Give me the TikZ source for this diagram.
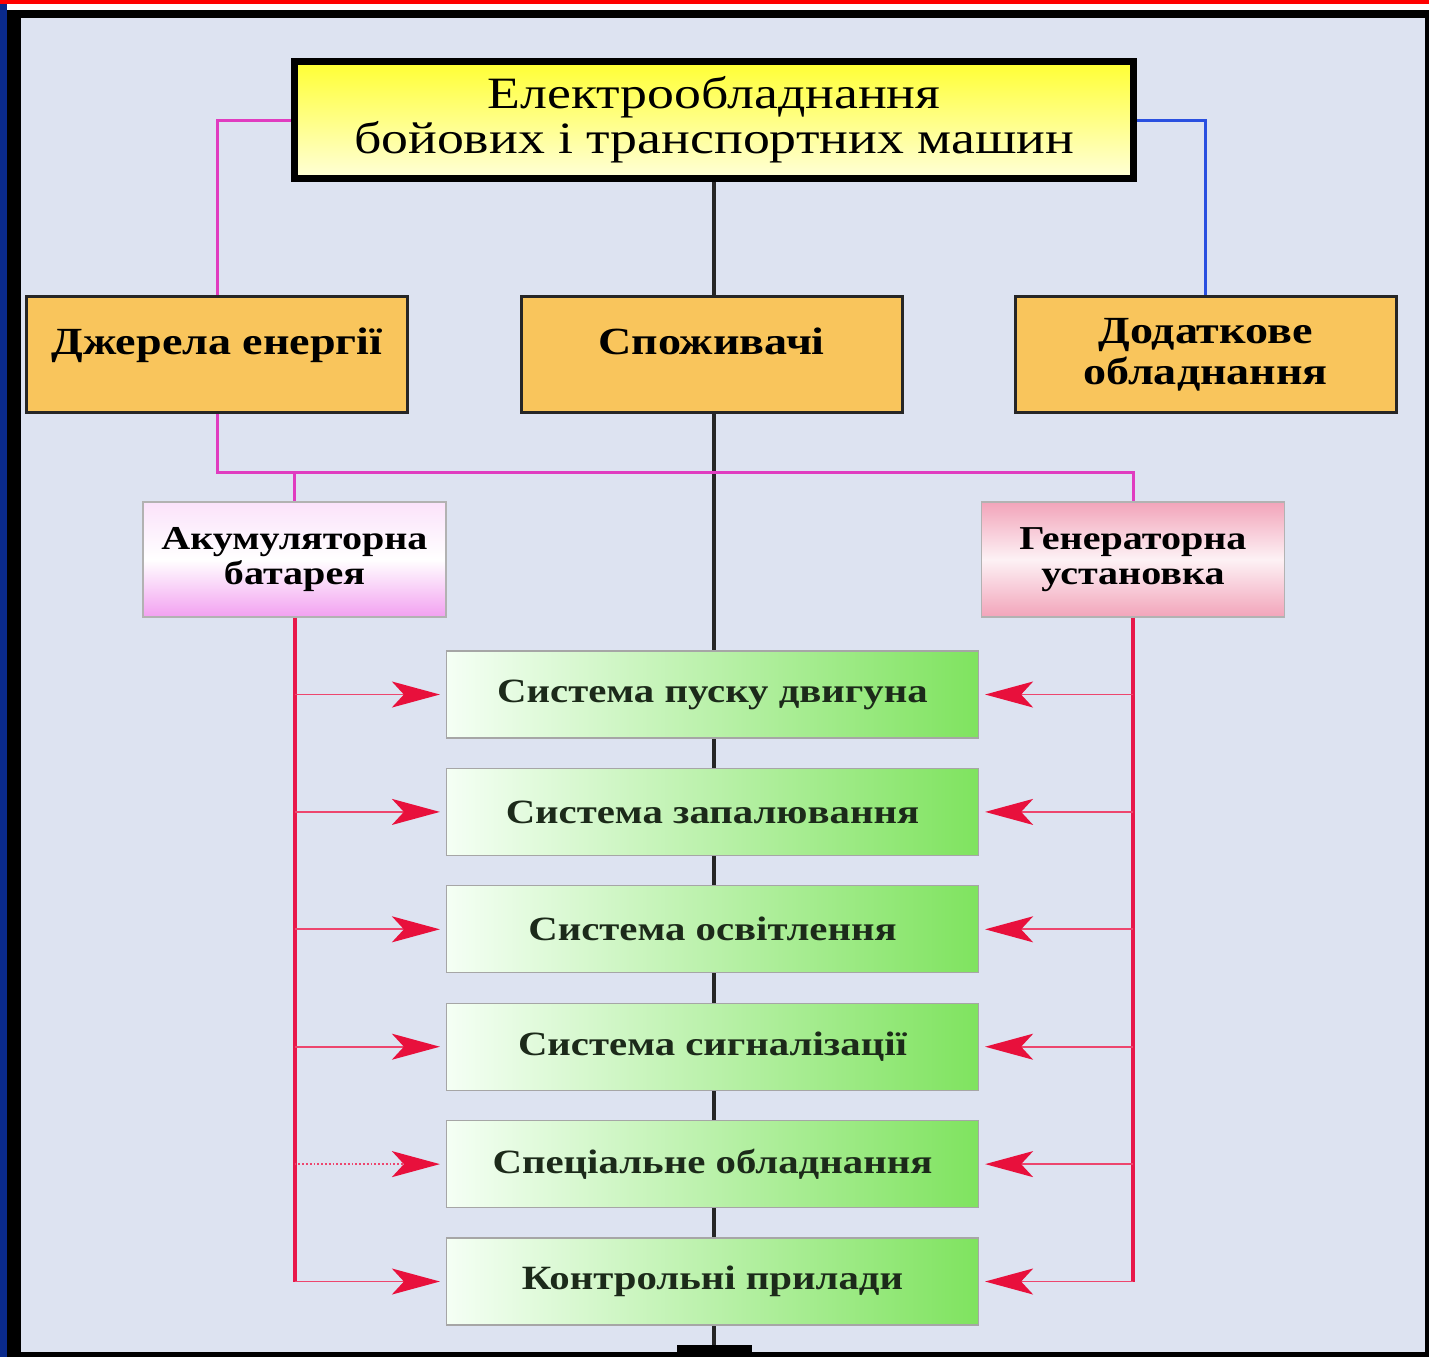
\documentclass[tikz,border=0pt]{standalone}
\usepackage{fontspec}
\setmainfont[FakeStretch=1.2]{Liberation Serif}
\usetikzlibrary{arrows.meta,positioning}
\pgfdeclarelayer{background}
\pgfdeclarelayer{foreground}
\pgfsetlayers{background,main,foreground}

\definecolor{pagebg}{HTML}{DDE3F1}
\definecolor{framenavy}{HTML}{0A2A8C}
\definecolor{boxorange}{HTML}{F9C55C}
\definecolor{linkpink}{HTML}{E03CC0}
\definecolor{linkblue}{HTML}{2A50E0}
\definecolor{feedred}{HTML}{E8184A}
\definecolor{tipred}{HTML}{E8103C}
\definecolor{sysgreen}{HTML}{7FE35F}
\definecolor{genpink}{HTML}{F2A4BA}
\definecolor{akbpink}{HTML}{F2A0F0}
\definecolor{systext}{HTML}{1C2A1A}

\tikzset{
  x=0.5pt, y=-0.5pt,
  titlebox/.style={draw=black, line width=3.5pt, top color=yellow!80, bottom color=yellow!15,
    minimum width=419.5pt, minimum height=58.5pt, align=center,
    font=\fontsize{22.4}{22.5}\selectfont},
  groupbox/.style={draw=black!85, line width=1.5pt, fill=boxorange,
    minimum width=190.5pt, minimum height=58pt, align=center,
    font=\bfseries\fontsize{19.2}{20.5}\selectfont},
  partbox/.style={draw=gray!60, line width=0.6pt, minimum width=151.5pt, minimum height=57.5pt,
    align=center, font=\bfseries\fontsize{16.7}{17.5}\selectfont},
  sysbox/.style={draw=gray!70, line width=0.6pt, left color=green!4, right color=sysgreen,
    minimum width=266pt, minimum height=43.5pt, text=systext,
    font=\bfseries\fontsize{17}{18}\selectfont},
  feed/.style={draw=feedred!80, line width=0.9pt, shorten >=3pt,
    -{Stealth[length=24pt, width=13pt, inset=6pt, color=tipred]}},
  supply/.style={draw=feedred, line width=2pt}
}

\begin{document}
\begin{tikzpicture}
\useasboundingbox (0,0) rectangle (1429,1357);
\begin{pgfonlayer}{background}
% frame
\fill[white] (0,0) rectangle (1429,1357);
\fill[red] (0,0) rectangle (1429,4);
\fill[framenavy] (0,4) rectangle (7,1357);
\fill[black] (7,10) rectangle (1429,1357);
\fill[pagebg] (21,18) rectangle (1425,1352);
\end{pgfonlayer}

\node[titlebox] (title) at (714,120) {Електрообладнання\\ бойових і транспортних машин};

\node[groupbox, text depth=13pt] (src) at (217,354.5) {Джерела енергії};
\node[groupbox, text depth=13pt] (cons) at (711.5,354.5) {Споживачі};
\node[groupbox] (add) at (1205.5,354.5) {Додаткове\\ обладнання};

\node[partbox, top color=akbpink!30, bottom color=akbpink, middle color=white] (akb) at (294.5,559.5) {Акумуляторна\\ батарея};
\node[partbox, top color=genpink, bottom color=genpink, middle color=genpink!15] (gen) at (1133,559.5) {Генераторна\\ установка};

\foreach \txt [count=\i] in {Система пуску двигуна, Система запалювання, Система освітлення,
    Система сигналізації, Спеціальне обладнання, Контрольні прилади}
  \node[sysbox] (sys\i) at (712.5,{694.5+(\i-1)*117.4}) {\txt};

\begin{pgfonlayer}{background}
\draw[black!85, line width=2pt] (title.south) -- (title.south |- 0,1350);
\fill[black] (677,1345) rectangle (752,1357);
\end{pgfonlayer}

% links from the top
\draw[linkpink, line width=1.5pt] (title.west) -| (src.north);
\draw[linkblue, line width=1.5pt] (title.east) -| (add.north);
\coordinate (bus) at (0,472);
\draw[linkpink, line width=1.5pt] (src.south) |- (gen.north |- bus) -- (gen.north);
\draw[linkpink, line width=1.5pt] (akb.north |- bus) -- (akb.north);

% supply lines
\draw[supply] (akb.south) -- (akb.south |- sys6.west);
\draw[supply] (gen.south) -- (gen.south |- sys6.east);
\foreach \i/\st in {1/solid,2/solid,3/solid,4/solid,5/densely dotted,6/solid} {
  \draw[feed, \st] (akb.south |- sys\i.west) -- (sys\i.west);
  \draw[feed] (gen.south |- sys\i.east) -- (sys\i.east);
}
\end{tikzpicture}
\end{document}
